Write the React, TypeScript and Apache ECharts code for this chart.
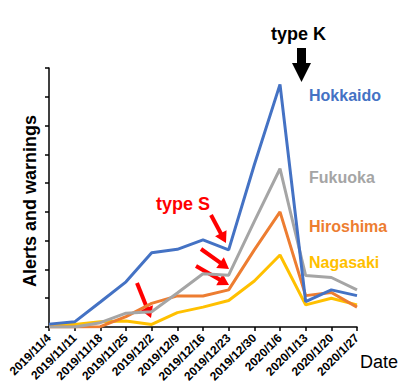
import React, { useEffect, useRef } from "react";
import * as echarts from "echarts";

const dates = [
  "2019/11/4", "2019/11/11", "2019/11/18", "2019/11/25", "2019/12/2", "2019/12/9",
  "2019/12/16", "2019/12/23", "2019/12/30", "2020/1/6", "2020/1/13", "2020/1/20", "2020/1/27",
];
const hokkaido = [0.1, 0.18, 0.87, 1.57, 2.58, 2.7, 3.03, 2.68, 5.64, 8.43, 0.88, 1.29, 1.09];
const fukuoka = [0, 0, 0.15, 0.48, 0.53, 1.18, 1.85, 1.8, 3.67, 5.5, 1.79, 1.72, 1.29];
const hiroshima = [0, 0, 0.01, 0.36, 0.82, 1.08, 1.08, 1.29, 2.68, 4.0, 1.09, 1.2, 0.69];
const nagasaki = [0.09, 0.09, 0.18, 0.21, 0.09, 0.5, 0.69, 0.92, 1.6, 2.5, 0.77, 1.0, 0.77];

const FONT = "'Liberation Sans', Arial, sans-serif";

function redArrow(x1: number, y1: number, x2: number, y2: number) {
  const dx = x2 - x1, dy = y2 - y1;
  const len = Math.sqrt(dx * dx + dy * dy);
  const ux = dx / len, uy = dy / len;
  const hl = 11, hw = 6.5;
  const bx = x2 - ux * hl, by = y2 - uy * hl;
  const px = -uy, py = ux;
  return [
    { type: "line", shape: { x1, y1, x2: bx + ux * 1, y2: by + uy * 1 }, style: { stroke: "#FF0000", lineWidth: 4 } },
    {
      type: "polygon",
      shape: { points: [[x2, y2], [bx + px * hw, by + py * hw], [bx - px * hw, by - py * hw]] },
      style: { fill: "#FF0000" },
    },
  ];
}

export default function App() {
  const ref = useRef<HTMLDivElement>(null);
  useEffect(() => {
    const chart = echarts.init(ref.current!, null, { renderer: "svg" });
    const mk = (name: string, data: number[], color: string) => ({
      name, type: "line", data, symbol: "none", smooth: false,
      lineStyle: { color, width: 3 }, itemStyle: { color },
    });
    chart.setOption({
      animation: false,
      grid: { left: 49, right: 43, top: 68, bottom: 65 },
      xAxis: {
        type: "category", data: dates, boundaryGap: false,
        axisLine: { lineStyle: { color: "#000", width: 1.5 } },
        axisTick: { show: true, length: 4, lineStyle: { color: "#000", width: 1.5 } },
        axisLabel: { rotate: 45, interval: 0, margin: 9, fontSize: 12, fontWeight: "bold", color: "#000", fontFamily: FONT },
        splitLine: { show: false },
      },
      yAxis: {
        type: "value", min: 0, max: 9, interval: 1,
        axisLine: { show: true, lineStyle: { color: "#000", width: 1.5 } },
        axisTick: { show: true, length: 4, lineStyle: { color: "#000", width: 1.5 } },
        axisLabel: { show: false },
        splitLine: { show: false },
      },
      series: [
        mk("Nagasaki", nagasaki, "#FFC000"),
        mk("Hiroshima", hiroshima, "#ED7D31"),
        mk("Fukuoka", fukuoka, "#A5A5A5"),
        mk("Hokkaido", hokkaido, "#4472C4"),
      ],
      graphic: [
        {
          type: "text", x: 30, y: 201, rotation: Math.PI / 2,
          style: { text: "Alerts and warnings", font: `bold 18px ${FONT}`, fill: "#000", align: "center", verticalAlign: "middle" },
        },
        { type: "text", x: 360, y: 362, style: { text: "Date", font: `18px ${FONT}`, fill: "#000", verticalAlign: "middle" } },
        { type: "text", x: 271, y: 34, style: { text: "type K", font: `bold 18px ${FONT}`, fill: "#000", verticalAlign: "middle" } },
        {
          type: "polygon",
          shape: { points: [[297, 48], [306, 48], [306, 63], [311, 63], [301.5, 82], [292, 63], [297, 63]] },
          style: { fill: "#000" },
        },
        { type: "text", x: 309, y: 95, style: { text: "Hokkaido", font: `bold 16px ${FONT}`, fill: "#4472C4", verticalAlign: "middle" } },
        { type: "text", x: 309, y: 177, style: { text: "Fukuoka", font: `bold 16px ${FONT}`, fill: "#A5A5A5", verticalAlign: "middle" } },
        { type: "text", x: 309, y: 226, style: { text: "Hiroshima", font: `bold 16px ${FONT}`, fill: "#ED7D31", verticalAlign: "middle" } },
        { type: "text", x: 309, y: 262, style: { text: "Nagasaki", font: `bold 16px ${FONT}`, fill: "#FFC000", verticalAlign: "middle" } },
        { type: "text", x: 156, y: 204, style: { text: "type S", font: `bold 18px ${FONT}`, fill: "#FF0000", verticalAlign: "middle" } },
        ...redArrow(137, 283, 151, 318),
        ...redArrow(211, 215, 226, 243),
        ...redArrow(201, 249, 229, 269),
        ...redArrow(196, 266, 229, 285),
      ],
    });
    return () => chart.dispose();
  }, []);
  return <div ref={ref} style={{ position: "fixed", left: 0, top: 0, width: 400, height: 392, background: "#fff" }} />;
}
